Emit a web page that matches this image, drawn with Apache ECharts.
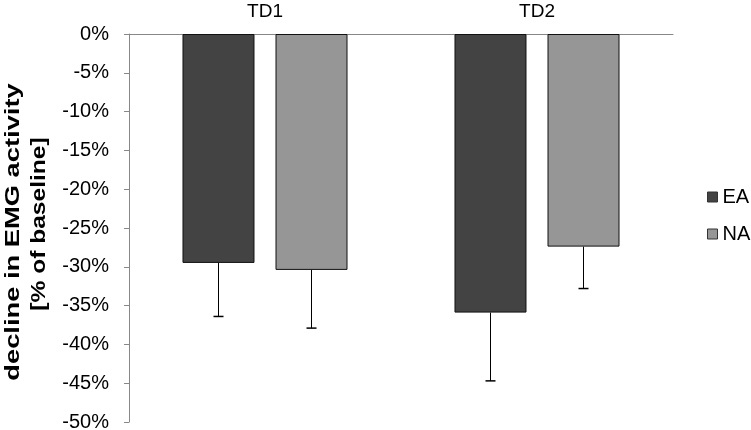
<!DOCTYPE html>
<html><head><meta charset="utf-8">
<script src="https://cdn.jsdelivr.net/npm/echarts@6/dist/echarts.min.js"></script>
<style>html,body{margin:0;padding:0;background:#fff}#c{width:751px;height:430px}</style>
</head><body><div id="c"></div>
<script>
const categories = ['TD1', 'TD2'];
const seriesNames = ['EA', 'NA'];
const eaValues = [-29.5, -35.9];
const naValues = [-30.4, -27.4];
const eaErrors = [6.9, 8.8];
const naErrors = [7.5, 5.4];
const yTitleLines = ['decline in EMG activity', '[% of baseline]'];

const colors = ['#434343', '#969696'];
const BAR_W = 72, GAP = 21;

function errSeries(vals, errs, sign, name) {
  return {
    type: 'custom',
    name: name + '_err',
    silent: true,
    z: 5,
    data: vals.map((v, i) => [i, v, v - errs[i]]),
    renderItem: function (params, api) {
      const idx = api.value(0);
      const p1 = api.coord([idx, api.value(1)]);
      const p2 = api.coord([idx, api.value(2)]);
      const x = p1[0] + sign * (BAR_W + GAP) / 2;
      return {
        type: 'group',
        children: [
          { type: 'line', shape: { x1: x, y1: p1[1], x2: x, y2: p2[1] }, style: { stroke: '#000', lineWidth: 1 } },
          { type: 'line', shape: { x1: x - 5, y1: p2[1], x2: x + 5, y2: p2[1] }, style: { stroke: '#000', lineWidth: 1.5 } }
        ]
      };
    }
  };
}

const chart = echarts.init(document.getElementById('c'));
chart.setOption({
  animation: false,
  textStyle: { fontFamily: 'Liberation Sans, Arial, sans-serif' },
  grid: { left: 129, right: 78, top: 34, bottom: 8, containLabel: false, outerBoundsMode: 'none' },
  graphic: [
    { type: 'text', x: 13, y: 232, rotation: Math.PI / 2, scaleX: 1.3, scaleY: 1,
      style: { text: yTitleLines[0], font: 'bold 21px Liberation Sans, Arial, sans-serif', fill: '#000', align: 'center', verticalAlign: 'middle' } },
    { type: 'text', x: 39, y: 224, rotation: Math.PI / 2, scaleX: 1.17, scaleY: 1,
      style: { text: yTitleLines[1], font: 'bold 21px Liberation Sans, Arial, sans-serif', fill: '#000', align: 'center', verticalAlign: 'middle' } }
  ],
  legend: {
    data: seriesNames.map((n, i) => ({ name: n, itemStyle: { color: colors[i], borderColor: '#333', borderWidth: 1 } })),
    orient: 'vertical',
    left: 702,
    top: 182,
    itemWidth: 10,
    itemHeight: 10,
    itemGap: 17,
    icon: 'rect',
    textStyle: { fontSize: 20, color: '#000' }
  },
  xAxis: {
    type: 'category',
    data: categories,
    position: 'top',
    axisLine: { lineStyle: { color: '#888', width: 1 } },
    axisTick: { inside: true, length: 5, lineStyle: { color: '#888' } },
    axisLabel: { fontSize: 19, color: '#000', margin: 13 }
  },
  yAxis: {
    type: 'value',
    min: -50,
    max: 0,
    interval: 5,
    axisLine: { show: true, lineStyle: { color: '#888' } },
    axisTick: { show: true, length: 5, lineStyle: { color: '#888' } },
    splitLine: { show: false },
    axisLabel: { fontSize: 20, color: '#000', margin: 20, formatter: '{value}%' }
  },
  series: [
    { name: 'EA', type: 'bar', data: eaValues, barWidth: BAR_W, barGap: (GAP / BAR_W * 100).toFixed(1) + '%',
      itemStyle: { color: colors[0], borderColor: '#111', borderWidth: 1 } },
    { name: 'NA', type: 'bar', data: naValues, barWidth: BAR_W,
      itemStyle: { color: colors[1], borderColor: '#111', borderWidth: 1 } },
    errSeries(eaValues, eaErrors, -1, 'EA'),
    errSeries(naValues, naErrors, 1, 'NA')
  ]
});
</script></body></html>
